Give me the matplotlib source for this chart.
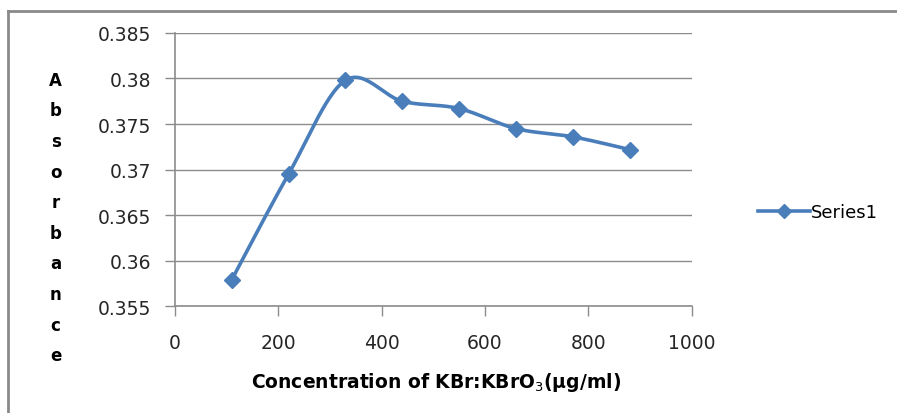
import numpy as np
import matplotlib.pyplot as plt
from matplotlib.lines import Line2D

# concentration (ug/ml) and absorbance
concentration = [110, 220, 330, 440, 550, 660, 770, 880]
absorbance = [0.3579, 0.3695, 0.3798, 0.3775, 0.3767, 0.3745, 0.3736, 0.3722]

x_ticks = [0, 200, 400, 600, 800, 1000]
y_ticks = [0.355, 0.36, 0.365, 0.37, 0.375, 0.38, 0.385]
y_tick_labels = ["0.355", "0.36", "0.365", "0.37", "0.375", "0.38", "0.385"]

LINE_COLOR = "#4a7ebb"
GRID_COLOR = "#8c8c8c"
FONT = "DejaVu Sans"


def smooth(xs, ys, steps=30):
    # Catmull-Rom curve through the points, like Excel's smoothed line
    p = np.column_stack([xs, ys]).astype(float)
    p = np.vstack([p[0], p, p[-1]])
    out = []
    t = np.linspace(0, 1, steps)[:, None]
    for i in range(1, len(p) - 2):
        p0, p1, p2, p3 = p[i - 1], p[i], p[i + 1], p[i + 2]
        seg = 0.5 * ((2 * p1) + (-p0 + p2) * t
                     + (2 * p0 - 5 * p1 + 4 * p2 - p3) * t ** 2
                     + (-p0 + 3 * p1 - 3 * p2 + p3) * t ** 3)
        out.append(seg)
    curve = np.vstack(out)
    return curve[:, 0], curve[:, 1]


def main():
    fig = plt.figure(figsize=(8.97, 4.14), dpi=100)
    ax = fig.add_axes([0.195, 0.258, 0.576, 0.660])

    sx, sy = smooth(concentration, absorbance)
    ax.plot(sx, sy, color=LINE_COLOR, lw=2.6, solid_capstyle="round", zorder=3)
    ax.plot(concentration, absorbance, "D", color=LINE_COLOR, ms=8, zorder=4)

    ax.set_xlim(0, 1000)
    ax.set_ylim(0.355, 0.385)
    ax.set_xticks(x_ticks)
    ax.set_yticks(y_ticks)
    ax.set_yticklabels(y_tick_labels)
    ax.grid(axis="y", color=GRID_COLOR, lw=1)
    ax.set_axisbelow(True)

    for side in ["top", "right"]:
        ax.spines[side].set_visible(False)
    for side in ["left", "bottom"]:
        ax.spines[side].set_color(GRID_COLOR)
        ax.spines[side].set_linewidth(1.2)
    ax.tick_params(axis="both", direction="out", length=7, width=1,
                   color=GRID_COLOR, labelsize=13.5, labelcolor="#262626")
    ax.tick_params(axis="x", pad=12)
    ax.tick_params(axis="y", pad=10)
    for label in ax.get_xticklabels() + ax.get_yticklabels():
        label.set_fontfamily(FONT)

    ax.set_xlabel("Concentration of KBr:KBrO$_3$(\u00b5g/ml)", fontsize=13.5,
                  fontweight="bold", family=FONT)
    ax.xaxis.set_label_coords(0.505, -0.235)

    fig.text(0.062, 0.472, "\n".join("Absorbance"), ha="center", va="center",
             fontsize=12, fontweight="bold", family=FONT, linespacing=1.9)

    handle = Line2D([], [], color=LINE_COLOR, lw=2.6, marker="D", ms=7)
    fig.legend([handle], ["Series1"], loc="center left",
               bbox_to_anchor=(0.827, 0.485), frameon=False, handlelength=2.9,
               handletextpad=0.0, prop={"family": FONT, "size": 13})

    # outer chart frame (left and top edges visible)
    frame = dict(color="#8a8a8a", lw=2, transform=fig.transFigure)
    fig.add_artist(Line2D([0.009, 0.009], [0.0, 0.971], **frame))
    fig.add_artist(Line2D([0.009, 1.0], [0.971, 0.971], **frame))

    fig.savefig("out.png", dpi=100)


if __name__ == "__main__":
    main()
